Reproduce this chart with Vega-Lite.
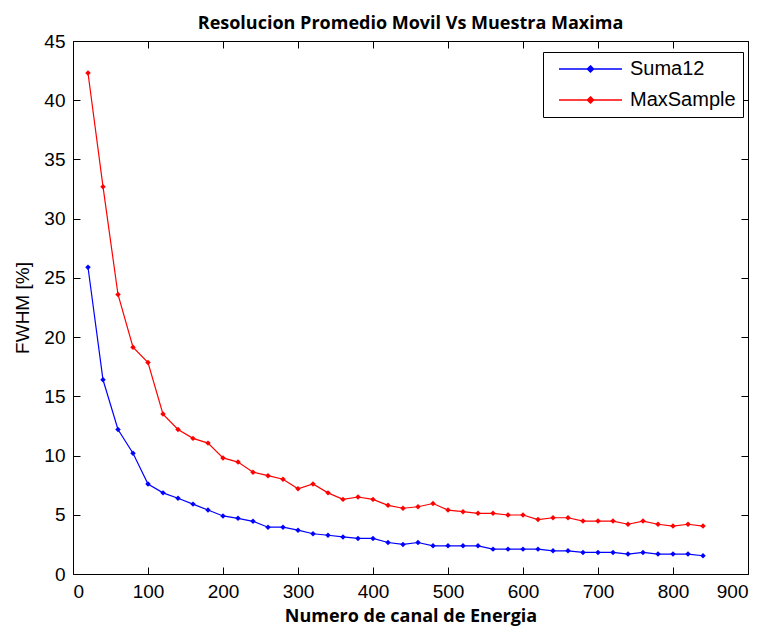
{
  "$schema": "https://vega.github.io/schema/vega-lite/v6.json",
  "width": 675,
  "height": 533,
  "autosize": {"type": "none"},
  "padding": {"left": 73, "top": 41, "right": 21, "bottom": 57},
  "background": "white",
  "title": {
    "text": "Resolucion Promedio Movil Vs Muestra Maxima",
    "font": "Open Sans",
    "fontSize": 18,
    "fontWeight": "bold",
    "color": "#000000",
    "offset": -1,
    "anchor": "middle"
  },
  "config": {
    "view": {"stroke": "#000000", "strokeWidth": 1},
    "axis": {
      "domain": false,
      "grid": false,
      "tickColor": "#000000",
      "tickSize": -7,
      "tickWidth": 1,
      "labelFont": "Liberation Sans",
      "labelFontSize": 19,
      "labelColor": "#000000",
      "titleColor": "#000000"
    }
  },
  "data": {
    "values": [
      {"canal": 20, "serie": "Suma12", "fwhm": 25.9},
      {"canal": 40, "serie": "Suma12", "fwhm": 16.4},
      {"canal": 60, "serie": "Suma12", "fwhm": 12.2},
      {"canal": 80, "serie": "Suma12", "fwhm": 10.2},
      {"canal": 100, "serie": "Suma12", "fwhm": 7.6},
      {"canal": 120, "serie": "Suma12", "fwhm": 6.85},
      {"canal": 140, "serie": "Suma12", "fwhm": 6.4},
      {"canal": 160, "serie": "Suma12", "fwhm": 5.9},
      {"canal": 180, "serie": "Suma12", "fwhm": 5.4},
      {"canal": 200, "serie": "Suma12", "fwhm": 4.9},
      {"canal": 220, "serie": "Suma12", "fwhm": 4.7},
      {"canal": 240, "serie": "Suma12", "fwhm": 4.45},
      {"canal": 260, "serie": "Suma12", "fwhm": 3.95},
      {"canal": 280, "serie": "Suma12", "fwhm": 3.95},
      {"canal": 300, "serie": "Suma12", "fwhm": 3.7},
      {"canal": 320, "serie": "Suma12", "fwhm": 3.4},
      {"canal": 340, "serie": "Suma12", "fwhm": 3.27},
      {"canal": 360, "serie": "Suma12", "fwhm": 3.13},
      {"canal": 380, "serie": "Suma12", "fwhm": 3.0},
      {"canal": 400, "serie": "Suma12", "fwhm": 3.0},
      {"canal": 420, "serie": "Suma12", "fwhm": 2.66},
      {"canal": 440, "serie": "Suma12", "fwhm": 2.5},
      {"canal": 460, "serie": "Suma12", "fwhm": 2.66},
      {"canal": 480, "serie": "Suma12", "fwhm": 2.38},
      {"canal": 500, "serie": "Suma12", "fwhm": 2.38},
      {"canal": 520, "serie": "Suma12", "fwhm": 2.38},
      {"canal": 540, "serie": "Suma12", "fwhm": 2.38},
      {"canal": 560, "serie": "Suma12", "fwhm": 2.1},
      {"canal": 580, "serie": "Suma12", "fwhm": 2.1},
      {"canal": 600, "serie": "Suma12", "fwhm": 2.1},
      {"canal": 620, "serie": "Suma12", "fwhm": 2.1},
      {"canal": 640, "serie": "Suma12", "fwhm": 1.96},
      {"canal": 660, "serie": "Suma12", "fwhm": 1.96},
      {"canal": 680, "serie": "Suma12", "fwhm": 1.82},
      {"canal": 700, "serie": "Suma12", "fwhm": 1.82},
      {"canal": 720, "serie": "Suma12", "fwhm": 1.82},
      {"canal": 740, "serie": "Suma12", "fwhm": 1.68},
      {"canal": 760, "serie": "Suma12", "fwhm": 1.82},
      {"canal": 780, "serie": "Suma12", "fwhm": 1.68},
      {"canal": 800, "serie": "Suma12", "fwhm": 1.68},
      {"canal": 820, "serie": "Suma12", "fwhm": 1.68},
      {"canal": 840, "serie": "Suma12", "fwhm": 1.54},
      {"canal": 20, "serie": "MaxSample", "fwhm": 42.3},
      {"canal": 40, "serie": "MaxSample", "fwhm": 32.7},
      {"canal": 60, "serie": "MaxSample", "fwhm": 23.6},
      {"canal": 80, "serie": "MaxSample", "fwhm": 19.15},
      {"canal": 100, "serie": "MaxSample", "fwhm": 17.85},
      {"canal": 120, "serie": "MaxSample", "fwhm": 13.5},
      {"canal": 140, "serie": "MaxSample", "fwhm": 12.2},
      {"canal": 160, "serie": "MaxSample", "fwhm": 11.45},
      {"canal": 180, "serie": "MaxSample", "fwhm": 11.05},
      {"canal": 200, "serie": "MaxSample", "fwhm": 9.8},
      {"canal": 220, "serie": "MaxSample", "fwhm": 9.45},
      {"canal": 240, "serie": "MaxSample", "fwhm": 8.6},
      {"canal": 260, "serie": "MaxSample", "fwhm": 8.3},
      {"canal": 280, "serie": "MaxSample", "fwhm": 8.0},
      {"canal": 300, "serie": "MaxSample", "fwhm": 7.2},
      {"canal": 320, "serie": "MaxSample", "fwhm": 7.6},
      {"canal": 340, "serie": "MaxSample", "fwhm": 6.85},
      {"canal": 360, "serie": "MaxSample", "fwhm": 6.3},
      {"canal": 380, "serie": "MaxSample", "fwhm": 6.5},
      {"canal": 400, "serie": "MaxSample", "fwhm": 6.3},
      {"canal": 420, "serie": "MaxSample", "fwhm": 5.8},
      {"canal": 440, "serie": "MaxSample", "fwhm": 5.55},
      {"canal": 460, "serie": "MaxSample", "fwhm": 5.68},
      {"canal": 480, "serie": "MaxSample", "fwhm": 5.95},
      {"canal": 500, "serie": "MaxSample", "fwhm": 5.4},
      {"canal": 520, "serie": "MaxSample", "fwhm": 5.26},
      {"canal": 540, "serie": "MaxSample", "fwhm": 5.12},
      {"canal": 560, "serie": "MaxSample", "fwhm": 5.12},
      {"canal": 580, "serie": "MaxSample", "fwhm": 4.98},
      {"canal": 600, "serie": "MaxSample", "fwhm": 4.98},
      {"canal": 620, "serie": "MaxSample", "fwhm": 4.6},
      {"canal": 640, "serie": "MaxSample", "fwhm": 4.75},
      {"canal": 660, "serie": "MaxSample", "fwhm": 4.75},
      {"canal": 680, "serie": "MaxSample", "fwhm": 4.47},
      {"canal": 700, "serie": "MaxSample", "fwhm": 4.47},
      {"canal": 720, "serie": "MaxSample", "fwhm": 4.47},
      {"canal": 740, "serie": "MaxSample", "fwhm": 4.2},
      {"canal": 760, "serie": "MaxSample", "fwhm": 4.47},
      {"canal": 780, "serie": "MaxSample", "fwhm": 4.2},
      {"canal": 800, "serie": "MaxSample", "fwhm": 4.05},
      {"canal": 820, "serie": "MaxSample", "fwhm": 4.2},
      {"canal": 840, "serie": "MaxSample", "fwhm": 4.05}
    ]
  },
  "layer": [
    {
      "mark": {"type": "line", "strokeWidth": 1.2, "point": {"filled": true, "size": 30, "shape": "diamond"}},
      "encoding": {
        "x": {
          "field": "canal", "type": "quantitative",
          "scale": {"domain": [0, 900], "nice": false, "zero": false},
          "axis": {
            "values": [0, 100, 200, 300, 400, 500, 600, 700, 800, 900],
            "title": "Numero de canal de Energia",
            "titleFont": "Open Sans", "titleFontSize": 18, "titleFontWeight": "bold",
            "labelPadding": 15, "titlePadding": 6
          }
        },
        "y": {
          "field": "fwhm", "type": "quantitative",
          "scale": {"domain": [0, 45], "nice": false, "zero": false},
          "axis": {
            "values": [0, 5, 10, 15, 20, 25, 30, 35, 40, 45],
            "title": "FWHM [%]",
            "titleFont": "Liberation Sans", "titleFontSize": 19, "titleFontWeight": "normal",
            "labelPadding": 15, "titlePadding": 11
          }
        },
        "color": {
          "field": "serie", "type": "nominal",
          "scale": {"domain": ["Suma12", "MaxSample"], "range": ["#0000ff", "#ff0000"]},
          "legend": {
            "title": null,
            "orient": "none",
            "legendX": 470,
            "legendY": 11,
            "direction": "vertical",
            "strokeColor": "#000000",
            "fillColor": "#ffffff",
            "padding": 7,
            "symbolType": "M-0.125,0H7.75M3.81,-0.4L4.21,0L3.81,0.4L3.41,0Z",
            "symbolSize": 256,
            "symbolStrokeWidth": 1.3,
            "labelFont": "Liberation Sans",
            "labelFontSize": 20,
            "labelColor": "#000000",
            "rowPadding": 11,
            "labelOffset": 60
          }
        }
      }
    },
    {
      "mark": {"type": "point", "opacity": 0},
      "encoding": {
        "x": {
          "field": "canal", "type": "quantitative",
          "axis": {"orient": "top", "values": [0, 100, 200, 300, 400, 500, 600, 700, 800, 900], "labels": false, "title": null}
        },
        "y": {
          "field": "fwhm", "type": "quantitative",
          "axis": {"orient": "right", "values": [0, 5, 10, 15, 20, 25, 30, 35, 40, 45], "labels": false, "title": null}
        }
      }
    }
  ],
  "resolve": {"axis": {"x": "independent", "y": "independent"}}
}
